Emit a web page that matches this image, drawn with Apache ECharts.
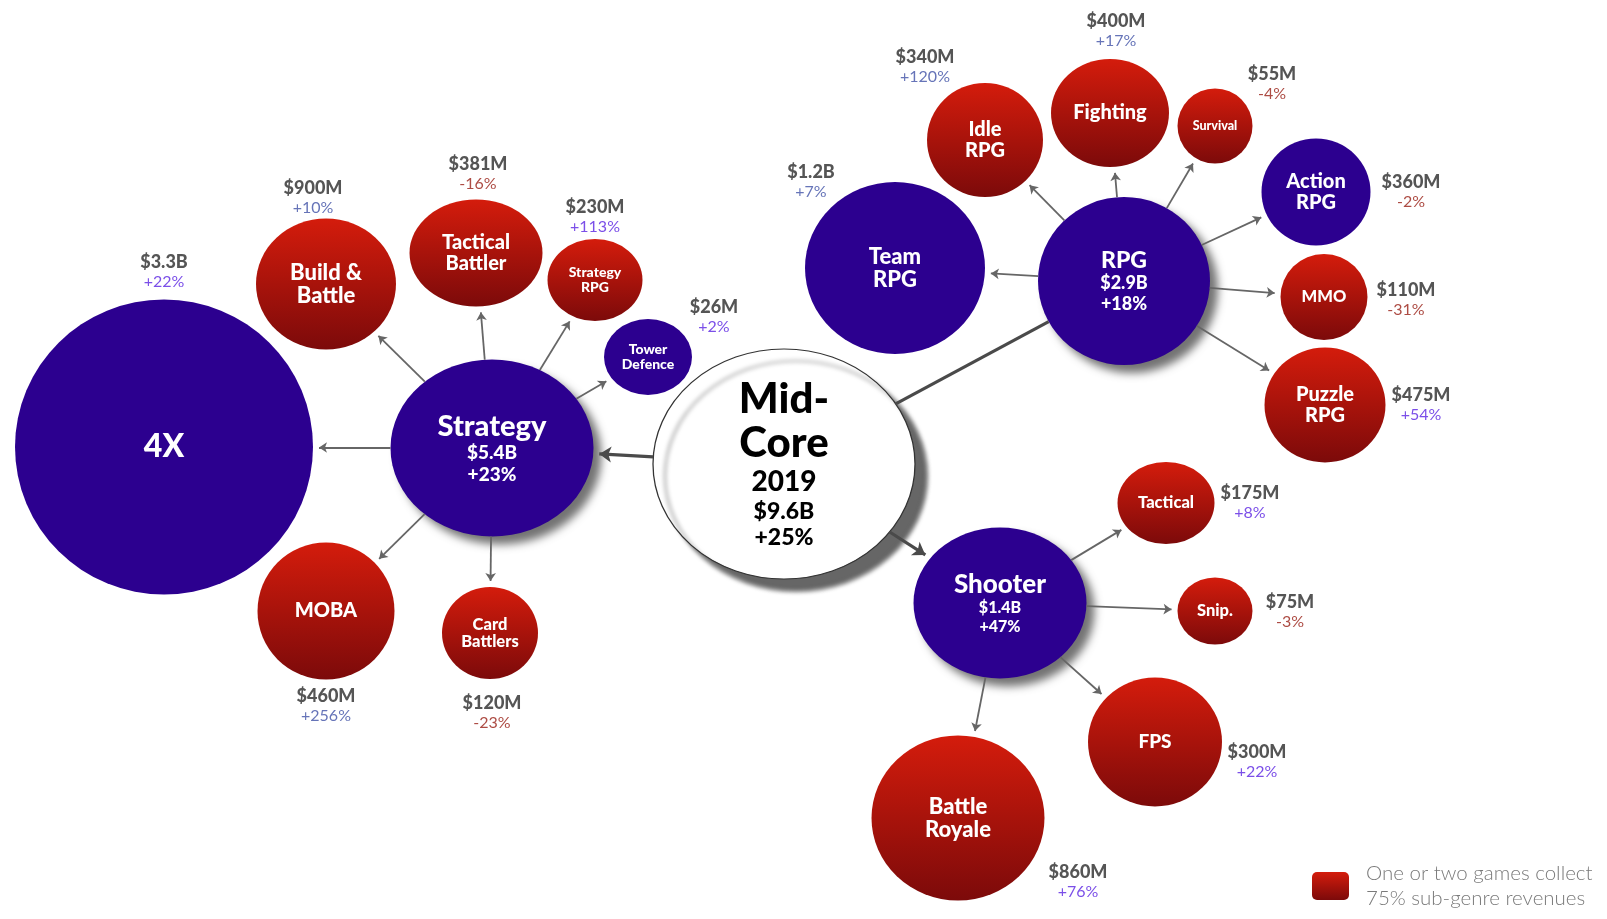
<!DOCTYPE html>
<html>
<head>
<meta charset="utf-8">
<title>Mid-Core 2019</title>
<script src="https://cdn.jsdelivr.net/npm/echarts@6/dist/echarts.min.js"></script>
<style>
  html, body { margin: 0; padding: 0; background: #fff; }
  #chart { width: 1607px; height: 919px; }
</style>
</head>
<body>
<div id="chart"></div>
<script>
// one entry per bubble; PARENT points at the index of the bubble it branches from
const NAMES = ['Mid-Core', 'Strategy', 'RPG', 'Shooter', '4X', 'Build & Battle', 'Tactical Battler',
  'Strategy RPG', 'Tower Defence', 'MOBA', 'Card Battlers', 'Team RPG', 'Idle RPG', 'Fighting',
  'Survival', 'Action RPG', 'MMO', 'Puzzle RPG', 'Tactical', 'Snip.', 'FPS', 'Battle Royale'];
const TITLES = ['Mid-\nCore', 'Strategy', 'RPG', 'Shooter', '4X', 'Build &\nBattle', 'Tactical\nBattler',
  'Strategy\nRPG', 'Tower\nDefence', 'MOBA', 'Card\nBattlers', 'Team\nRPG', 'Idle\nRPG', 'Fighting',
  'Survival', 'Action\nRPG', 'MMO', 'Puzzle\nRPG', 'Tactical', 'Snip.', 'FPS', 'Battle\nRoyale'];
const PARENT = [-1, 0, 0, 0, 1, 1, 1, 1, 1, 1, 1, 2, 2, 2, 2, 2, 2, 2, 3, 3, 3, 3];
const REVENUE = ['$9.6B', '$5.4B', '$2.9B', '$1.4B', '$3.3B', '$900M', '$381M', '$230M', '$26M', '$460M',
  '$120M', '$1.2B', '$340M', '$400M', '$55M', '$360M', '$110M', '$475M', '$175M', '$75M', '$300M', '$860M'];
const GROWTH = ['+25%', '+23%', '+18%', '+47%', '+22%', '+10%', '-16%', '+113%', '+2%', '+256%', '-23%',
  '+7%', '+120%', '+17%', '-4%', '-2%', '-31%', '+54%', '+8%', '-3%', '+22%', '+76%'];
// red bubbles: one or two games collect 75% of the sub-genre revenue
const CONCENTRATED = [false, false, false, false, false, true, true, true, false, true, true,
  false, true, true, true, false, true, true, true, true, true, true];
const YEAR = '2019';
const LEGEND_TEXT = 'One or two games collect\n75% sub-genre revenues';

// bubble centres and diameters (axis units = pixels)
const POS_X = [784, 492, 1124, 1000, 164, 326, 476, 595, 648, 326, 490, 895, 985, 1110, 1215, 1316, 1324, 1325, 1166, 1215, 1155, 958];
const POS_Y = [464, 448, 281, 603, 447, 284, 253, 280, 357, 611, 633, 268, 140, 113, 126, 192, 297, 405, 503, 611, 742, 818];
const WIDTH = [262, 203, 172, 173, 298, 140, 133, 95, 88, 137, 96, 180, 116, 118, 75, 109, 87, 121, 97, 75, 134, 173];
const HEIGHT = [230, 177, 168, 151, 295, 131, 107, 82, 76, 137, 92, 172, 114, 108, 75, 107, 86, 115, 82, 67, 129, 165];

// --- styling -------------------------------------------------------------
const FONT = 'Lato, "Open Sans", sans-serif';
const BLUE = '#2c008f';
const POS_COLOR = '#7b4fe8';
const MUTED_COLOR = '#6674b8';
const NEG_COLOR = '#ad4c44';
const MUTED = ['Build & Battle', 'Idle RPG', 'Fighting', 'Team RPG', 'MOBA'];
const TITLE_SIZE = {
  '4X': 32, 'Build & Battle': 22, 'Tactical Battler': 20, 'Strategy RPG': 14, 'Tower Defence': 14,
  'MOBA': 20, 'Card Battlers': 16.5, 'Team RPG': 22, 'Idle RPG': 20, 'Fighting': 20, 'Survival': 12.5,
  'Action RPG': 20, 'MMO': 16.5, 'Puzzle RPG': 20, 'Tactical': 16.5, 'Snip.': 16.5, 'FPS': 19, 'Battle Royale': 22,
};
const PARENT_SIZE = { Strategy: [29, 19], RPG: [23, 18], Shooter: [26, 16] };
const OUTER_OFFSET = {
  '4X': [0, -175], 'Build & Battle': [-13, -86], 'Tactical Battler': [2, -79], 'Strategy RPG': [0, -63],
  'Tower Defence': [66, -40], 'MOBA': [0, 95], 'Card Battlers': [2, 80], 'Team RPG': [-84, -86],
  'Idle RPG': [-60, -73], 'Fighting': [6, -82], 'Survival': [57, -42], 'Action RPG': [95, 0],
  'MMO': [82, 3], 'Puzzle RPG': [96, 0], 'Tactical': [84, 0], 'Snip.': [75, 1], 'FPS': [102, 20],
  'Battle Royale': [120, 64],
};
const ARROW_GAP = 6;

const redFill = () => new echarts.graphic.LinearGradient(0, 0, 0, 1, [
  { offset: 0, color: '#d41c0c' },
  { offset: 1, color: '#7c0a0a' },
]);

function itemStyle(i) {
  if (i === 0) {
    return { color: '#fff', opacity: 1, borderColor: '#333', borderWidth: 1.2,
      shadowColor: 'rgba(0,0,0,0.6)', shadowBlur: 4, shadowOffsetX: 12, shadowOffsetY: 12 };
  }
  const style = { color: CONCENTRATED[i] ? redFill() : BLUE, opacity: 1 };
  if (PARENT[i] === 0) {
    Object.assign(style, { shadowColor: 'rgba(0,0,0,0.55)', shadowBlur: 8, shadowOffsetX: 8, shadowOffsetY: 8 });
  }
  return style;
}

function innerLabel(i) {
  const base = { show: true, position: 'inside', fontFamily: FONT, align: 'center' };
  if (i === 0) {
    const [a, b] = TITLES[0].split('\n');
    return { ...base,
      formatter: `{a|${a}}\n{a|${b}}\n{b|${YEAR}}\n{c|${REVENUE[0]}}\n{c|${GROWTH[0]}}`,
      rich: {
        a: { fontFamily: FONT, fontSize: 42, fontWeight: 900, color: '#000', lineHeight: 44 },
        b: { fontFamily: FONT, fontSize: 28, fontWeight: 900, color: '#000', lineHeight: 34 },
        c: { fontFamily: FONT, fontSize: 23, fontWeight: 900, color: '#000', lineHeight: 26 },
      } };
  }
  if (PARENT[i] === 0) {
    const [n, v] = PARENT_SIZE[NAMES[i]];
    return { ...base,
      formatter: `{n|${TITLES[i]}}\n{v|${REVENUE[i]}}\n{v|${GROWTH[i]}}`,
      rich: {
        n: { fontFamily: FONT, fontSize: n, fontWeight: 900, color: '#fff', lineHeight: n * 1.1 },
        v: { fontFamily: FONT, fontSize: v, fontWeight: 900, color: '#fff', lineHeight: v * 1.15 },
      } };
  }
  const size = TITLE_SIZE[NAMES[i]];
  return { ...base, formatter: TITLES[i], color: '#fff', fontWeight: 900, fontSize: size, lineHeight: size * 1.05 };
}

function outerLabel(i) {
  const name = NAMES[i];
  const growthColor = GROWTH[i].startsWith('-') ? NEG_COLOR : (MUTED.includes(name) ? MUTED_COLOR : POS_COLOR);
  return { show: true, position: 'inside', offset: OUTER_OFFSET[name], align: 'center', verticalAlign: 'middle',
    formatter: `{v|${REVENUE[i]}}\n{g|${GROWTH[i]}}`,
    rich: {
      v: { fontFamily: FONT, fontSize: 18, fontWeight: 900, color: '#555', lineHeight: 20, align: 'center' },
      g: { fontFamily: FONT, fontSize: 16, fontWeight: 'normal', color: growthColor, lineHeight: 20, align: 'center' },
    } };
}

// distance from an ellipse centre to its rim along a unit direction
function rim(i, ux, uy) {
  const a = WIDTH[i] / 2, b = HEIGHT[i] / 2;
  return 1 / Math.sqrt((ux / a) ** 2 + (uy / b) ** 2);
}

const bubbles = NAMES.map((name, i) => ({
  name, value: [POS_X[i], POS_Y[i]], symbolSize: [WIDTH[i], HEIGHT[i]],
  itemStyle: itemStyle(i), label: innerLabel(i),
}));

const outer = NAMES.map((name, i) => i)
  .filter((i) => PARENT[i] > 0)
  .map((i) => ({ name: NAMES[i], value: [POS_X[i], POS_Y[i]], label: outerLabel(i) }));

const edges = [];
PARENT.forEach((p, i) => {
  if (p < 0) return;
  const dx = POS_X[i] - POS_X[p], dy = POS_Y[i] - POS_Y[p];
  const len = Math.hypot(dx, dy), ux = dx / len, uy = dy / len;
  const main = p === 0;
  const arrow = !(main && NAMES[i] === 'RPG');
  const r0 = rim(p, ux, uy);
  const r1 = rim(i, ux, uy) + (arrow ? ARROW_GAP : 0);
  edges.push({
    coords: [[POS_X[p] + ux * r0, POS_Y[p] + uy * r0], [POS_X[i] - ux * r1, POS_Y[i] - uy * r1]],
    symbol: ['none', arrow ? 'arrow' : 'none'],
    symbolSize: main ? 12 : 8,
    lineStyle: { width: main ? 3.2 : 1.8, color: main ? '#4a4a4a' : '#666', opacity: 1 },
  });
});

const chart = echarts.init(document.getElementById('chart'), null, { renderer: 'canvas' });
chart.setOption({
  animation: false,
  backgroundColor: '#fff',
  grid: { left: 0, right: 0, top: 0, bottom: 0 },
  xAxis: { type: 'value', min: 0, max: 1607, show: false },
  yAxis: { type: 'value', min: 0, max: 919, inverse: true, show: false },
  series: [
    { type: 'scatter', silent: true, z: 2, symbol: 'circle', itemStyle: { opacity: 1 }, data: bubbles },
    { type: 'lines', coordinateSystem: 'cartesian2d', silent: true, z: 3, data: edges },
    { type: 'scatter', silent: true, z: 4, symbolSize: 1, itemStyle: { color: 'rgba(0,0,0,0)', opacity: 1 }, data: outer },
  ],
  graphic: [
    { type: 'rect', left: 1312, top: 872, shape: { width: 37, height: 28, r: 5 }, style: { fill: redFill() } },
    { type: 'text', left: 1366, top: 861,
      style: { text: LEGEND_TEXT, font: `300 20.5px ${FONT}`, lineHeight: 25, fill: '#7a7a7a' } },
  ],
});
</script>
</body>
</html>
